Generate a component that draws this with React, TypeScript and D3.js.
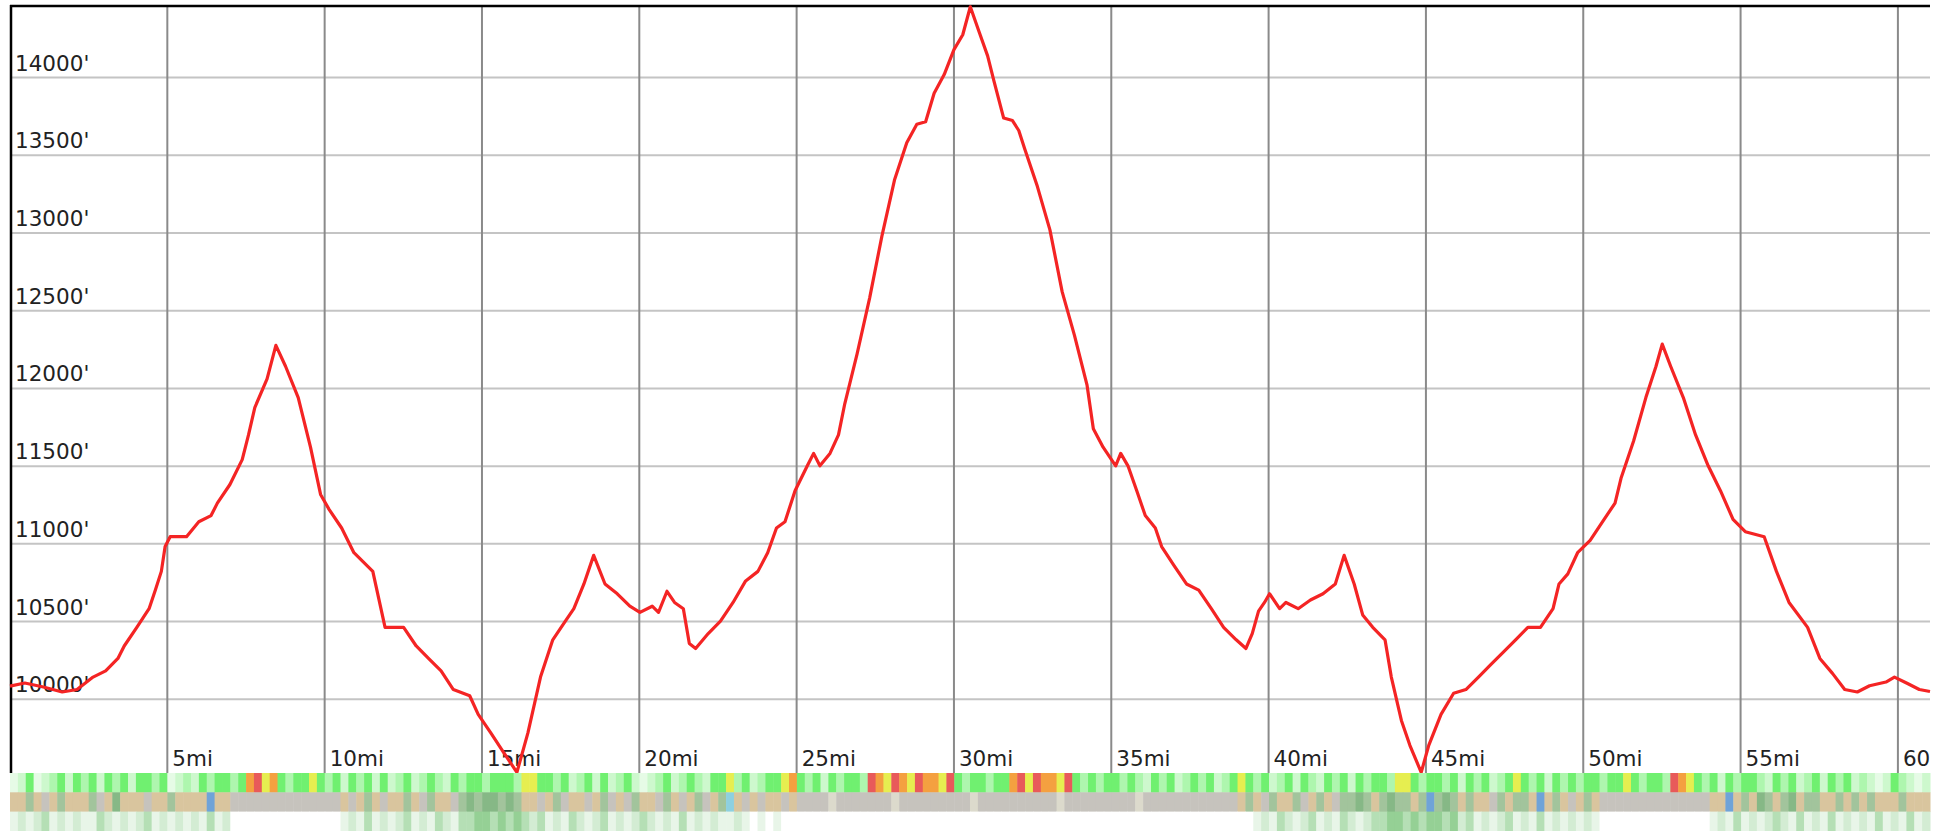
import React from 'react';
import * as d3 from 'd3';

// elevation profile: [miles, feet]
const profile: [number, number][] = [
  [0.0, 10085], [0.47, 10105], [1.06, 10079], [1.66, 10047], [2.13, 10063], [2.64, 10143],
  [3.04, 10183], [3.43, 10263], [3.63, 10343], [4.03, 10463], [4.42, 10583], [4.62, 10703],
  [4.81, 10823], [4.93, 10983], [5.09, 11046], [5.61, 11046], [6.0, 11142], [6.39, 11182],
  [6.59, 11262], [6.99, 11382], [7.38, 11542], [7.58, 11701], [7.78, 11877], [8.17, 12061],
  [8.45, 12277], [8.76, 12141], [9.16, 11941], [9.55, 11622], [9.87, 11318], [10.14, 11222],
  [10.54, 11102], [10.93, 10943], [11.53, 10823], [11.92, 10463], [12.51, 10463], [12.91, 10343],
  [13.3, 10263], [13.7, 10183], [14.09, 10063], [14.61, 10023], [14.88, 9903], [15.28, 9784],
  [15.67, 9664], [16.11, 9530], [16.46, 9784], [16.86, 10143], [17.25, 10383], [17.65, 10503],
  [17.92, 10583], [18.24, 10742], [18.55, 10926], [18.91, 10742], [19.3, 10679], [19.7, 10599],
  [20.02, 10559], [20.41, 10599], [20.61, 10559], [20.88, 10695], [21.12, 10623], [21.4, 10583],
  [21.59, 10359], [21.79, 10327], [22.19, 10423], [22.58, 10503], [22.98, 10623], [23.37, 10759],
  [23.77, 10823], [24.08, 10943], [24.36, 11102], [24.63, 11142], [24.95, 11342], [25.34, 11502],
  [25.54, 11582], [25.74, 11502], [26.06, 11582], [26.33, 11701], [26.53, 11901], [26.92, 12221],
  [27.32, 12581], [27.71, 12980], [28.11, 13340], [28.5, 13580], [28.82, 13699], [29.1, 13715],
  [29.37, 13899], [29.69, 14019], [30.0, 14179], [30.28, 14275], [30.52, 14455], [30.79, 14299],
  [31.07, 14139], [31.27, 13979], [31.58, 13739], [31.86, 13723], [32.06, 13659], [32.25, 13540],
  [32.65, 13300], [33.05, 13020], [33.44, 12621], [33.83, 12341], [34.23, 12021], [34.43, 11741],
  [34.74, 11622], [35.14, 11502], [35.3, 11582], [35.53, 11502], [35.81, 11342], [36.08, 11182],
  [36.4, 11102], [36.6, 10983], [36.99, 10862], [37.39, 10742], [37.78, 10702], [38.18, 10583],
  [38.57, 10463], [38.97, 10383], [39.28, 10327], [39.48, 10423], [39.68, 10567], [39.87, 10623],
  [40.03, 10679], [40.35, 10583], [40.55, 10623], [40.94, 10583], [41.33, 10639], [41.73, 10679],
  [42.12, 10742], [42.4, 10926], [42.72, 10742], [42.99, 10543], [43.31, 10463], [43.7, 10383],
  [43.9, 10143], [44.22, 9864], [44.49, 9704], [44.85, 9530], [45.09, 9704], [45.48, 9903],
  [45.88, 10039], [46.27, 10063], [46.67, 10143], [47.06, 10223], [47.46, 10303], [47.85, 10383],
  [48.24, 10463], [48.64, 10463], [49.04, 10583], [49.23, 10742], [49.51, 10807], [49.82, 10943],
  [50.22, 11022], [50.61, 11142], [51.01, 11262], [51.2, 11422], [51.6, 11662], [51.99, 11941],
  [52.31, 12141], [52.51, 12285], [52.78, 12141], [53.18, 11941], [53.57, 11701], [53.97, 11502],
  [54.36, 11342], [54.76, 11158], [55.15, 11078], [55.75, 11046], [56.14, 10823], [56.54, 10623],
  [57.13, 10463], [57.52, 10263], [57.92, 10167], [58.31, 10063], [58.71, 10047], [59.1, 10087],
  [59.62, 10111], [59.89, 10143], [60.29, 10103], [60.68, 10063], [61.02, 10050],
];

const xTicks = [5, 10, 15, 20, 25, 30, 35, 40, 45, 50, 55, 60];
const yTicks = [10000, 10500, 11000, 11500, 12000, 12500, 13000, 13500, 14000];

// strips under the chart, one char per equal step of distance
const gradeBand =
  'abdabcdb' + 'dcdbdcdbddcd' + 'abcb' + 'dcddcd' + 'oryo' + 'dcdd' + 'yd' + 'cdbdcdbd' +
  'bcdbcdcb' + 'dcddcdddc' + 'yyd' + 'dcdbcdbd' + 'bcdbabcdbcdcbd' + 'dy' + 'cdbcdd' + 'yod' +
  'cdbdcddc' + 'royroyrooyr' + 'dcddcdd' + 'oryrooyr' + 'dcdcddcdc' + 'bdcdbcdcdbcd' + 'ydcd' +
  'bcdbdcbdcdbdcddc' + 'yy' + 'dcddcdbdcdbcd' + 'yd' + 'cdbdcdcddcdd' + 'y' + 'dcddc' + 'roy' +
  'dcdbdcddcbdcdbcdbdcdbcbabdcbab';
const surfaceBand =
  'ttftgtftttfgtFtttgttftttt' + 'b' + 'tt' + 'gggggggggggggg' + 'tgtftgttftgfttgf' + 'FfFFfFf' +
  'ttgtfgttgtfgtgfttgftgtfgtf' + 'c' + 'tgtgttgt' +
  'ggggwgggggggwgggggggggwggggggggggwgggggggggwgggggggggggg' +
  'tftgfttfgtftgffFftfFfftf' + 'b' + 'fFftfttgftfft' + 'b' + 'tftgtft' + 'gggggggggggggg' + 'tt' + 'b' +
  'tftFftfFtffttftftftttfttt';
const vegBand =
  '1212312121132121231212121312' + '00000000000000' + '1213121231213213' + '34434343' +
  '23121321231212321213121211210101' +
  '000000000000000000000000000000000000000000000000000000000000' +
  '1213212312132123' + '3443434434' + '231212312131212121' + '00000000000000' +
  '1213121232131213121213121312';

const gradeColors: Record<string, string> = {
  a: '#e6fbe6', b: '#cdf8cd', c: '#aef6ae', d: '#70f070', y: '#e6ee50', o: '#f4a040', r: '#e85a5a',
};
const surfaceColors: Record<string, string> = {
  t: '#d9c59e', g: '#c6c3bd', f: '#a2c49c', F: '#86b886', b: '#6fa3d8', c: '#8dd0e0', w: '#dcdacc',
};
const vegColors: Record<string, string> = {
  '0': '#ffffff', '1': '#e8f5e8', '2': '#d3ecd3', '3': '#b5dfb5', '4': '#95d095',
};

const W = 1948;
const H = 831;
const left = 10;
const right = 1930;
const top = 6;
const bottom = 773;
const bandH = 19.3;
const maxMi = 61.02;

export default function App() {
  const x = d3.scaleLinear().domain([0, maxMi]).range([left, right]);
  const y = d3.scaleLinear().domain([9526, 14460]).range([bottom, top]);
  const line = d3.line<[number, number]>().x(d => x(d[0])).y(d => y(d[1]));

  const bands: [string, Record<string, string>][] = [
    [gradeBand, gradeColors],
    [surfaceBand, surfaceColors],
    [vegBand, vegColors],
  ];

  return (
    <svg width={W} height={H} style={{ position: 'absolute', left: 0, top: 0, background: '#fff' }}
      fontFamily="'DejaVu Sans', sans-serif">
      <defs>
        <clipPath id="plotClip">
          <rect x={0} y={0} width={right} height={H} />
        </clipPath>
      </defs>
      {yTicks.map(t => (
        <line key={'h' + t} x1={left} x2={right} y1={y(t)} y2={y(t)} stroke="#c4c4c4" strokeWidth={2} />
      ))}
      {xTicks.map(t => (
        <line key={'v' + t} x1={x(t)} x2={x(t)} y1={top} y2={bottom} stroke="#8a8a8a" strokeWidth={2} />
      ))}
      {yTicks.map(t => (
        <text key={'yl' + t} x={left + 5} y={y(t) - 7} fontSize={21.5} fill="#222">{t}'</text>
      ))}
      <g clipPath="url(#plotClip)">
        {xTicks.map(t => (
          <text key={'xl' + t} x={x(t) + 5} y={766} fontSize={21.5} fill="#222">{t}mi</text>
        ))}
      </g>
      <line x1={left + 1} x2={left + 1} y1={top - 1} y2={bottom} stroke="#000" strokeWidth={2.5} />
      <line x1={left} x2={right} y1={top} y2={top} stroke="#000" strokeWidth={2.5} />
      <path d={line(profile) ?? ''} fill="none" stroke="#f42424" strokeWidth={3.2} strokeLinejoin="round" />
      {bands.map(([codes, colors], bi) => {
        const step = maxMi / codes.length;
        return (
          <g key={'band' + bi}>
            {codes.split('').map((c, i) => (
              <rect key={i} x={x(i * step)} y={bottom + bi * bandH} width={x((i + 1) * step) - x(i * step) + 0.5}
                height={bandH + 0.5} fill={colors[c]} />
            ))}
          </g>
        );
      })}
    </svg>
  );
}
